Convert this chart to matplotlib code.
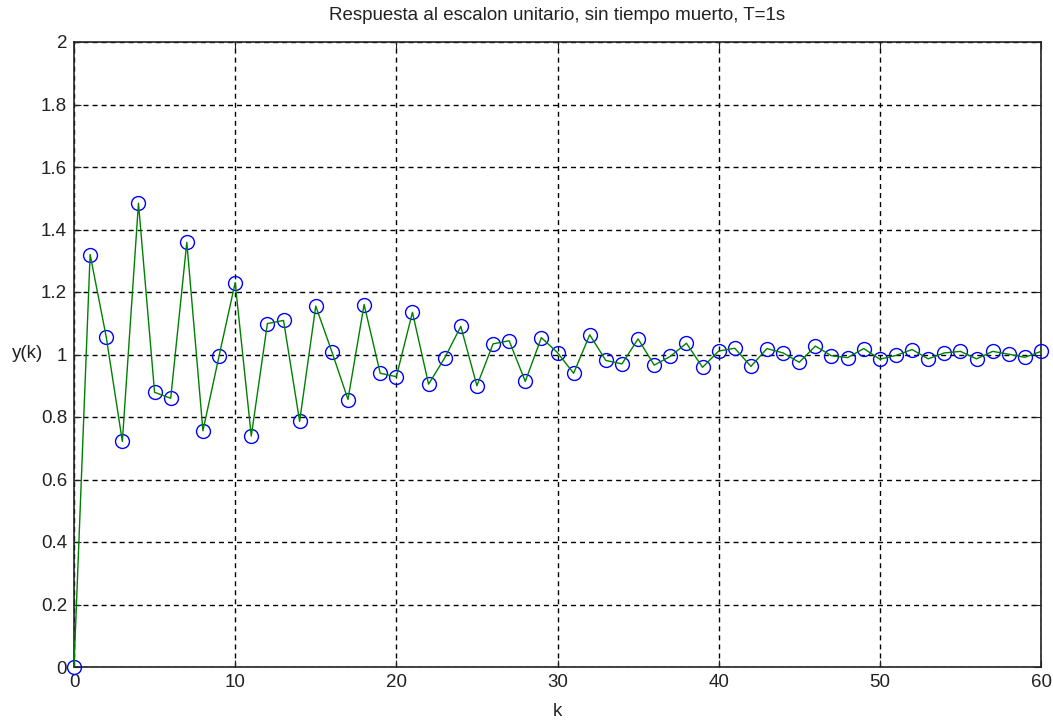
import numpy as np
import matplotlib
matplotlib.use('Agg')
import matplotlib.pyplot as plt

plt.rcParams['font.family'] = ['Liberation Sans', 'DejaVu Sans']

# step response samples
k = np.arange(0, 61)
y = [0.0, 1.32, 1.056, 0.722, 1.484, 0.879, 0.86, 1.359, 0.756, 0.995,
     1.23, 0.739, 1.099, 1.109, 0.786, 1.155, 1.009, 0.856, 1.16, 0.94,
     0.929, 1.135, 0.905, 0.989, 1.09, 0.90, 1.034, 1.044, 0.914, 1.054,
     1.006, 0.94, 1.063, 0.981, 0.97, 1.05, 0.966, 0.994, 1.036, 0.959,
     1.011, 1.02, 0.962, 1.019, 1.005, 0.975, 1.027, 0.996, 0.99, 1.019,
     0.985, 0.997, 1.016, 0.986, 1.005, 1.01, 0.986, 1.01, 1.001, 0.991,
     1.01]

xticks = np.arange(0, 61, 10)
yticks = np.round(np.arange(0, 2.01, 0.2), 1)
ytick_labels = ['0', '0.2', '0.4', '0.6', '0.8', '1', '1.2', '1.4', '1.6', '1.8', '2']

fig = plt.figure(figsize=(10.53, 7.22), dpi=100)
ax = fig.add_axes([74/1053, 1-667/722, (1041-74)/1053, (667-42)/722])

ax.plot(k, y, 'o', markersize=10, markerfacecolor='none', markeredgecolor='#0000ff',
        markeredgewidth=1.0, zorder=3, clip_on=False)
ax.plot(k, y, '-', color='#008000', linewidth=1.0, zorder=4, clip_on=False)

ax.set_xlim(0, 60)
ax.set_ylim(0, 2)
ax.set_xticks(xticks)
ax.set_yticks(yticks)
ax.set_yticklabels(ytick_labels)
ax.tick_params(direction='in', top=True, right=True, labelsize=13.5, length=5, pad=5,
               color='#222222', labelcolor='#222222')
ax.grid(True, color='black', linestyle=(0, (3.6, 2.9)), linewidth=1.0)
for s in ax.spines.values():
    s.set_linewidth(1.2)
    s.set_color('#222222')

ax.set_title('Respuesta al escalon unitario, sin tiempo muerto, T=1s', fontsize=13.5,
             pad=16, color='#222222')
ax.set_xlabel('k', fontsize=13.5, color='#222222', va='center')
ax.xaxis.set_label_coords(0.5, -(711-667)/625)
ax.set_ylabel('y(k)', fontsize=13.5, rotation=0, color='#222222', va='center', ha='center')
ax.yaxis.set_label_coords(-(74-28)/967, (667-354)/625)

fig.savefig('out.png', dpi=100)
